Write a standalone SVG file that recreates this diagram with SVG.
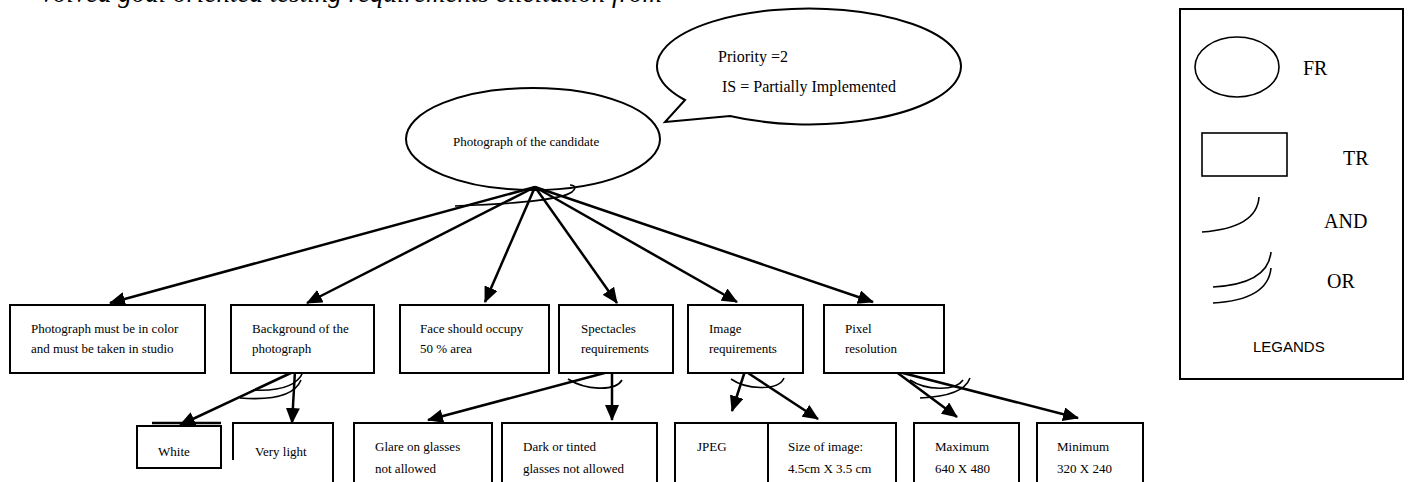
<svg xmlns="http://www.w3.org/2000/svg" width="1408" height="482" viewBox="0 0 1408 482">
<style>
.bx{fill:#fff;stroke:#000;stroke-width:2}
.ln{fill:none;stroke:#000;stroke-width:2.5}
.arc{fill:none;stroke:#000;stroke-width:1.6}
.t{font-family:"Liberation Serif","Times New Roman",serif;font-size:13px;fill:#000}
.tb{font-family:"Liberation Serif","Times New Roman",serif;font-size:16px;fill:#000}
.tl{font-family:"Liberation Serif","Times New Roman",serif;font-size:20px;fill:#000}
</style>
<defs>
<marker id="ah" viewBox="0 0 16 14" refX="15" refY="7" markerWidth="16" markerHeight="14" orient="auto" markerUnits="userSpaceOnUse"><path d="M0,0 L16,7 L0,14 Z" fill="#000"/></marker>
</defs>
<rect width="1408" height="482" fill="#fff"/>
<text x="662" y="2" text-anchor="end" style="font-family:'Liberation Serif','Times New Roman',serif;font-size:27px;font-style:italic">volved goal oriented testing requirements elicitation from</text>

<g id="callout">
<path d="M685,100 L665,122 L730,116 A152,58 0 1 0 685,100 Z" class="bx"/>
<text x="718" y="62" class="tb">Priority =2</text>
<text x="722" y="92" class="tb">IS = Partially Implemented</text>
</g>

<g id="root">
<ellipse cx="533" cy="139" rx="127" ry="51" class="bx"/>
<text x="453" y="146" class="t">Photograph of the candidate</text>
</g>

<g id="connectors">
<path class="ln" marker-end="url(#ah)" d="M535,187 L110,303"/>
<path class="ln" marker-end="url(#ah)" d="M535,187 L307,303"/>
<path class="ln" marker-end="url(#ah)" d="M535,187 L485,302"/>
<path class="ln" marker-end="url(#ah)" d="M535,187 L617,303"/>
<path class="ln" marker-end="url(#ah)" d="M535,187 L737,302"/>
<path class="ln" marker-end="url(#ah)" d="M535,187 L873,302"/>
<path class="arc" d="M455,206 L477,205 C520,203 560,200 572,192 C577,188 575,185 570,185"/>

<path class="ln" marker-end="url(#ah)" d="M295,371 L180,425"/>
<path class="ln" marker-end="url(#ah)" d="M295,371 L292,423"/>
<path class="arc" d="M253,390 Q295,392 303,372"/>
<path class="arc" d="M240,398 Q292,402 301,380"/>

<path class="ln" marker-end="url(#ah)" d="M612,371 L428,420"/>
<path class="ln" marker-end="url(#ah)" d="M612,371 L612,420"/>
<path class="arc" d="M568,379 C585,390 615,392 622,380"/>

<path class="ln" marker-end="url(#ah)" d="M745,371 L732,411"/>
<path class="ln" marker-end="url(#ah)" d="M745,371 L818,419"/>
<path class="arc" d="M731,379 C745,389 778,392 784,378"/>

<path class="ln" marker-end="url(#ah)" d="M895,371 L957,417"/>
<path class="ln" marker-end="url(#ah)" d="M895,371 L1078,418"/>
<path class="arc" d="M910,380 C925,390 955,392 963,380"/>
<path class="arc" d="M920,398 C945,397 965,392 970,378"/>
</g>

<g id="n1"><rect x="10" y="305" width="195" height="68" class="bx"/><text class="t" x="31" y="333">Photograph must be in color</text><text class="t" x="31" y="353">and must be taken in studio</text></g>
<g id="n2"><rect x="231" y="305" width="143" height="68" class="bx"/><text class="t" x="252" y="333">Background of the</text><text class="t" x="252" y="353">photograph</text></g>
<g id="n3"><rect x="400" y="305" width="149" height="68" class="bx"/><text class="t" x="420" y="333">Face should occupy</text><text class="t" x="420" y="353">50 % area</text></g>
<g id="n4"><rect x="559" y="305" width="114" height="68" class="bx"/><text class="t" x="581" y="333">Spectacles</text><text class="t" x="581" y="353">requirements</text></g>
<g id="n5"><rect x="688" y="305" width="115" height="68" class="bx"/><text class="t" x="709" y="333">Image</text><text class="t" x="709" y="353">requirements</text></g>
<g id="n6"><rect x="824" y="305" width="120" height="68" class="bx"/><text class="t" x="845" y="333">Pixel</text><text class="t" x="845" y="353">resolution</text></g>

<g id="n7"><path d="M152,423 H221" class="ln" stroke-width="2"/><rect x="137" y="426" width="84" height="42" class="bx"/><text class="t" x="158" y="456">White</text></g>
<g id="n8"><path d="M233,460 V423 H333 V490" class="bx" fill="none"/><text class="t" x="255" y="456">Very light</text></g>
<g id="n9"><rect x="354" y="423" width="138" height="80" class="bx"/><text class="t" x="375" y="451">Glare on glasses</text><text class="t" x="375" y="473">not allowed</text></g>
<g id="n10"><rect x="502" y="423" width="155" height="80" class="bx"/><text class="t" x="523" y="451">Dark or tinted</text><text class="t" x="523" y="473">glasses not allowed</text></g>
<g id="n11"><rect x="675" y="423" width="93" height="80" class="bx"/><text class="t" x="697" y="451">JPEG</text></g>
<g id="n12"><rect x="768" y="423" width="128" height="80" class="bx"/><text class="t" x="788" y="451">Size of image:</text><text class="t" x="788" y="473">4.5cm X 3.5 cm</text></g>
<g id="n13"><rect x="914" y="423" width="105" height="80" class="bx"/><text class="t" x="935" y="451">Maximum</text><text class="t" x="935" y="473">640 X 480</text></g>
<g id="n14"><rect x="1037" y="423" width="106" height="80" class="bx"/><text class="t" x="1057" y="451">Minimum</text><text class="t" x="1057" y="473">320 X 240</text></g>

<g id="legend">
<rect x="1180" y="9" width="223" height="370" class="bx"/>
<ellipse cx="1237" cy="67" rx="42" ry="30" fill="none" stroke="#000" stroke-width="1.6"/>
<text class="tl" x="1303" y="75">FR</text>
<rect x="1202" y="133" width="85" height="43" fill="none" stroke="#000" stroke-width="1.6"/>
<text class="tl" x="1343" y="165">TR</text>
<path class="arc" d="M1202,232 Q1257,228 1259,197"/>
<text class="tl" x="1324" y="228">AND</text>
<path class="arc" d="M1213,287 Q1268,284 1271,252"/>
<path class="arc" d="M1213,303 Q1268,300 1271,268"/>
<text class="tl" x="1327" y="288">OR</text>
<text x="1253" y="352" style="font-family:'Liberation Sans',Arial,sans-serif;font-size:15px">LEGANDS</text>
</g>
</svg>
